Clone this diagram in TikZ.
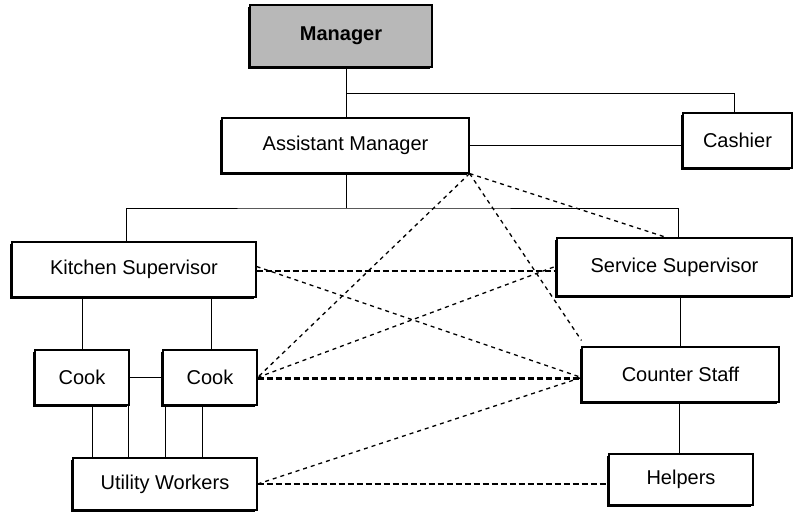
\documentclass[tikz,border=0pt]{standalone}
\usepackage{fontspec}
\setmainfont{Liberation Sans}
\usetikzlibrary{shadows}
\begin{document}
\begin{tikzpicture}[x=1pt,y=-1pt,
  box/.style={draw=black,line width=1.1pt,fill=white,inner sep=0pt,
    font=\fontsize{20}{23}\selectfont,
    drop shadow={shadow xshift=-2pt,shadow yshift=-2.2pt,opacity=1,fill=black}},
  link/.style={draw=black,line width=0.8pt},
  thickdash/.style={draw=black,line width=2.4pt,dash pattern=on 6pt off 3pt},
  thindash/.style={draw=black,line width=1.3pt,dash pattern=on 4pt off 4pt}]
\useasboundingbox (0,0) rectangle (794,511);
% boxes
\node[box,fill=black!28,minimum width=182,minimum height=62,font=\fontsize{20}{23}\selectfont\bfseries] (mgr) at (341,36) {Manager};
\node[box,minimum width=247,minimum height=55] (am) at (345.5,145.5) {Assistant Manager};
\node[box,minimum width=109,minimum height=55] (cash) at (737.5,140.5) {Cashier};
\node[box,minimum width=244,minimum height=55] (ks) at (134,269.5) {Kitchen Supervisor};
\node[box,minimum width=235,minimum height=58] (ss) at (674.5,267) {Service Supervisor};
\node[box,minimum width=94,minimum height=55] (cook1) at (82,377.5) {Cook};
\node[box,minimum width=94,minimum height=55] (cook2) at (210,377.5) {Cook};
\node[box,minimum width=197,minimum height=55] (cs) at (680.5,374.5) {Counter Staff};
\node[box,minimum width=184,minimum height=52] (uw) at (165,484) {Utility Workers};
\node[box,minimum width=144,minimum height=51] (help) at (681,479.5) {Helpers};
% junctions
\coordinate (j1) at (346,93);
\coordinate (j2) at (346,208);
% solid connectors
\draw[link] (mgr.south -| j1) -- (am.north -| j1);
\draw[link] (j1) -| ([xshift=-3]cash.north);
\draw[link] (am.east) -- (am.east -| cash.west);
\draw[link] (am.south -| j2) -- (j2);
\draw[link] ([xshift=-8]ks.north) |- (j2) -| ([xshift=3.5]ss.north);
\draw[link] (cook1.north) -- (cook1.north |- ks.south);
\draw[link] ([xshift=1]cook2.north) -- ([xshift=1]cook2.north |- ks.south);
\draw[link] (cook1.east) -- (cook2.west);
\draw[link] ([xshift=10]cook1.south) -- ([xshift=10]cook1.south |- uw.north);
\draw[link] ([xshift=46]cook1.south) -- ([xshift=46]cook1.south |- uw.north);
\draw[link] ([xshift=-45]cook2.south) -- ([xshift=-45]cook2.south |- uw.north);
\draw[link] ([xshift=-8]cook2.south) -- ([xshift=-8]cook2.south |- uw.north);
\draw[link] (cs.north |- ss.south) -- (cs.north);
\draw[link] ([xshift=-1.5]cs.south) -- ([xshift=-1.5]cs.south |- help.north);
% dashed connectors
\draw[thickdash] ([yshift=-1.5]ks.east) -- ([yshift=-1.5]ks.east -| ss.west);
\draw[thickdash] ([yshift=-1]cook2.east) -- ([yshift=-1]cook2.east -| cs.west);
\draw[thickdash] (uw.east) -- (uw.east -| help.west);
\draw[thindash] ([yshift=3]ks.east) -- ([yshift=-3]cs.west);
\draw[thindash] (am.south east) -- (cook2.east);
\draw[thindash] (am.south east) -- ([xshift=-8]ss.north);
\draw[thindash] (am.south east) -- ([yshift=6]cs.north west);
\draw[thindash] (cook2.east) -- ([yshift=1]ss.west);
\draw[thindash] (uw.east) -- ([yshift=-3]cs.west);
\end{tikzpicture}
\end{document}
